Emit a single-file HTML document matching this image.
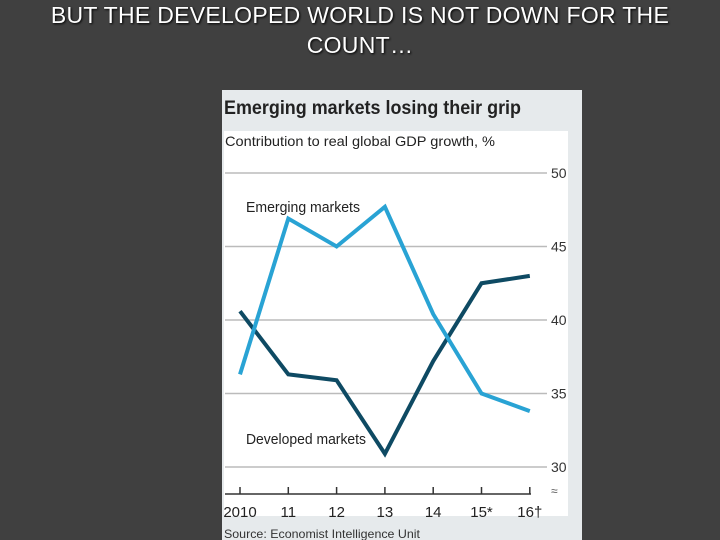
<!DOCTYPE html>
<html><head><meta charset="utf-8"><style>
body{margin:0;width:720px;height:540px;background:#404040;overflow:hidden;font-family:"Liberation Sans",sans-serif;}
#heading{position:absolute;left:0;top:0;width:720px;text-align:center;color:#fff;font-size:23px;line-height:30px;text-shadow:1px 1px 2px #000;letter-spacing:0.3px}
</style></head><body>
<div id="heading">BUT THE DEVELOPED WORLD IS NOT DOWN FOR THE<br>COUNT…</div>
<svg id="chart" width="720" height="540" style="position:absolute;left:0;top:0">
<rect x="222" y="90" width="360" height="450" fill="#e6eaec"/>
<rect x="224" y="131" width="344" height="385" fill="#ffffff"/>
<text x="224" y="114" font-size="19" font-weight="bold" fill="#222" textLength="297" lengthAdjust="spacingAndGlyphs">Emerging markets losing their grip</text>
<text x="225" y="146" font-size="14" fill="#222" textLength="270" lengthAdjust="spacingAndGlyphs">Contribution to real global GDP growth, %</text>
<text x="224" y="538" font-size="12" fill="#333" textLength="196" lengthAdjust="spacingAndGlyphs">Source: Economist Intelligence Unit</text>
<g id="g"></g>
</svg>
<script>
const years=['2010','11','12','13','14','15*','16†'];
const emerging=[36.3,46.9,45.0,47.7,40.4,35.0,33.8];
const developed=[40.6,36.3,35.9,30.9,37.2,42.5,43.0];
const yTicks=[30,35,40,45,50];
const NS='http://www.w3.org/2000/svg';
const g=document.getElementById('g');
const x=i=>240+i*48.3;
const y=v=>467-(v-30)*14.7;
function el(t,a){const e=document.createElementNS(NS,t);for(const k in a)e.setAttribute(k,a[k]);g.appendChild(e);return e;}
yTicks.forEach(v=>{
 const l=el('line',{x1:225,x2:547,y1:y(v),y2:y(v),stroke:'#bbb','stroke-width':1.5});
 
 
 const t=el('text',{x:551,y:y(v)+5,'font-size':14,fill:'#333'});t.textContent=v;
 
 
});
const ax=el('line',{x1:225,x2:531,y1:494,y2:494,stroke:'#333','stroke-width':1.5});


years.forEach((yr,i)=>{
 const tk=el('line',{x1:x(i),x2:x(i),y1:487,y2:494,stroke:'#333','stroke-width':1.5});
 
 
 const t=el('text',{x:x(i),y:517,'font-size':15,fill:'#222','text-anchor':'middle'});t.textContent=yr;
 
 
});
const br=el('text',{x:551,y:495,'font-size':12,fill:'#555'});br.textContent='≈';


function line(d,c,n){const p=el('polyline',{points:d.map((v,i)=>x(i)+','+y(v)).join(' '),fill:'none',stroke:c,'stroke-width':4,'stroke-linejoin':'miter'});
 
 }
line(developed,'#0e4a63','developed-line');
line(emerging,'#29a3d4','emerging-line');
const l1=el('text',{x:246,y:212,'font-size':15,fill:'#222',textLength:114,lengthAdjust:'spacingAndGlyphs'});l1.textContent='Emerging markets';


const l2=el('text',{x:246,y:444,'font-size':15,fill:'#222',textLength:120,lengthAdjust:'spacingAndGlyphs'});l2.textContent='Developed markets';


</script>
</body></html>
